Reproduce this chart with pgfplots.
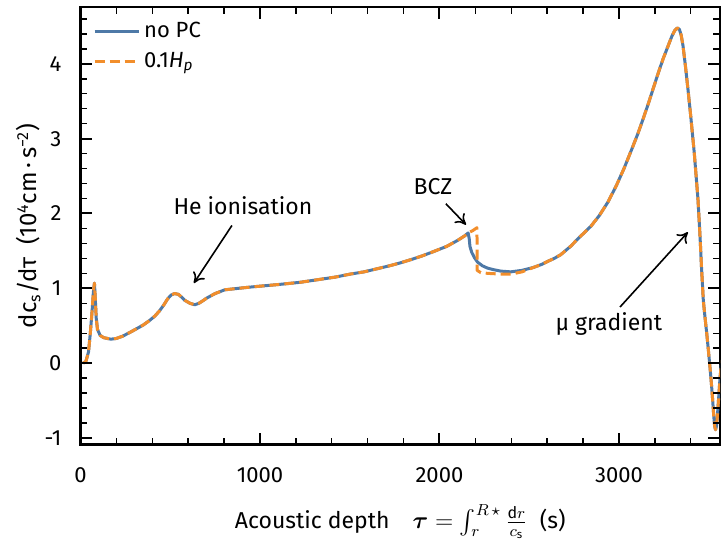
\documentclass[border=0pt]{standalone}
\usepackage{amsmath}
\usepackage{pgfplots}
\pgfplotsset{compat=1.18}
\usepackage{fontspec}
\setmainfont{Fira Sans}
\usetikzlibrary{arrows.meta}
\definecolor{cblue}{HTML}{4E79A7}
\definecolor{corange}{HTML}{F28E2B}
\begin{document}
\begin{tikzpicture}
\begin{axis}[
  scale only axis, width=320pt, height=219pt,
  xmin=0, xmax=3563, ymin=-1.09, ymax=4.76,
  xtick={0,1000,2000,3000}, ytick={-1,0,1,2,3,4},
  tick align=inside, tick pos=both,
  major tick length=0pt,
  axis line style={line width=1.2pt},
  clip=false,
  /pgf/number format/assume math mode=true,
  /pgf/number format/1000 sep={},
  scaled x ticks=false,
  tick label style={font=\fontsize{11}{13}\selectfont},
  xticklabel style={yshift=-8pt},
  yticklabel style={xshift=-6pt},
  xlabel={Acoustic depth\quad $\boldsymbol{\tau} = \int_r^{R\,\star}\frac{\mathrm{d}r}{c_\mathrm{s}}$\ \ (s)},
  ylabel={dc\textsubscript{s}/dτ\ \ (10\textsuperscript{4}cm\,·\,s\textsuperscript{−2})},
  every axis x label/.style={at={(rel axis cs:0.5,0)}, anchor=center, yshift=-38.5pt, font=\fontsize{11.5}{13}\selectfont},
  every axis y label/.style={at={(rel axis cs:0,0.5)}, anchor=center, rotate=90, yshift=26pt, font=\fontsize{12}{14}\selectfont},
  legend style={at={(rel axis cs:0.01,0.985)}, anchor=north west, draw=none, fill=none,
     font=\fontsize{11}{13}\selectfont, row sep=2pt},
  legend cell align=left,
  legend image code/.code={\draw[#1] (0pt,0pt) -- (22pt,0pt);},
]
\begin{scope}
\clip (rel axis cs:0,0) rectangle (rel axis cs:1,1);
\addplot[cblue, line width=1.5pt, line join=round] coordinates {
(15,0.0) (30,0.02) (45,0.15) (55,0.4) (65,0.7) (72,0.95) (78,1.07) (83,0.85) (88,0.6)
(95,0.45) (110,0.37) (130,0.34) (170,0.32) (200,0.33) (235,0.36) (275,0.41) (313,0.46)
(350,0.51) (385,0.57) (415,0.63) (441,0.7) (465,0.78) (486,0.86) (505,0.91) (525,0.93)
(545,0.92) (560,0.89) (581,0.84) (610,0.8) (637,0.78) (660,0.8) (680,0.83) (704,0.87)
(750,0.93) (804,0.98) (880,1.0) (961,1.02) (1100,1.05) (1223,1.08) (1335,1.12)
(1420,1.15) (1503,1.19) (1580,1.22) (1650,1.26) (1720,1.3) (1782,1.34) (1850,1.39)
(1900,1.43) (1966,1.49) (2040,1.56) (2101,1.64) (2140,1.7) (2160,1.74)
(2166,1.66) (2170,1.56) (2180,1.48) (2195,1.41) (2212,1.35) (2240,1.3) (2268,1.27)
(2300,1.25) (2341,1.23) (2397,1.22) (2460,1.24) (2525,1.28) (2570,1.32) (2603,1.36)
(2640,1.4) (2676,1.45) (2730,1.56) (2788,1.7) (2844,1.83) (2890,1.97) (2938,2.15)
(2985,2.37) (3028,2.6) (3070,2.85) (3106,3.07) (3140,3.3) (3168,3.5) (3195,3.7)
(3218,3.87) (3245,4.06) (3274,4.24) (3295,4.37) (3312,4.45) (3325,4.48) (3337,4.46)
(3347,4.38) (3357,4.24) (3370,3.98) (3385,3.65) (3400,3.3) (3420,2.8) (3440,2.2)
(3451,1.73) (3460,1.28) (3470,0.84) (3480,0.6) (3489,0.4) (3498,0.18) (3507,-0.05)
(3515,-0.27) (3522,-0.49) (3528,-0.7) (3533,-0.84) (3538,-0.89) (3543,-0.85)
(3548,-0.72) (3556,-0.45) (3563,-0.2) (3575,0.1)
};
\addlegendentry{no PC}
\addplot[corange, line width=1.5pt, line join=round, dash pattern=on 5pt off 2.5pt] coordinates {
(15,0.0) (30,0.02) (45,0.15) (55,0.4) (65,0.7) (72,0.95) (78,1.07) (83,0.85) (88,0.6)
(95,0.45) (110,0.37) (130,0.34) (170,0.32) (200,0.33) (235,0.36) (275,0.41) (313,0.46)
(350,0.51) (385,0.57) (415,0.63) (441,0.7) (465,0.78) (486,0.86) (505,0.91) (525,0.93)
(545,0.92) (560,0.89) (581,0.84) (610,0.8) (637,0.78) (660,0.8) (680,0.83) (704,0.87)
(750,0.93) (804,0.98) (880,1.0) (961,1.02) (1100,1.05) (1223,1.08) (1335,1.12)
(1420,1.15) (1503,1.19) (1580,1.22) (1650,1.26) (1720,1.3) (1782,1.34) (1850,1.39)
(1900,1.43) (1966,1.49) (2040,1.56) (2101,1.64) (2140,1.7) (2160,1.74)
(2185,1.77) (2209,1.81) (2210,1.24) (2230,1.21) (2268,1.2) (2340,1.19) (2400,1.19)
(2460,1.22) (2525,1.28) (2570,1.32) (2603,1.36)
(2640,1.4) (2676,1.45) (2730,1.56) (2788,1.7) (2844,1.83) (2890,1.97) (2938,2.15)
(2985,2.37) (3028,2.6) (3070,2.85) (3106,3.07) (3140,3.3) (3168,3.5) (3195,3.7)
(3218,3.87) (3245,4.06) (3274,4.24) (3295,4.37) (3312,4.45) (3325,4.48) (3337,4.46)
(3347,4.38) (3357,4.24) (3370,3.98) (3385,3.65) (3400,3.3) (3420,2.8) (3440,2.2)
(3451,1.73) (3460,1.28) (3470,0.84) (3480,0.6) (3489,0.4) (3498,0.18) (3507,-0.05)
(3515,-0.27) (3522,-0.49) (3528,-0.7) (3533,-0.84) (3538,-0.89) (3543,-0.85)
(3548,-0.72) (3556,-0.45) (3563,-0.2) (3575,0.1)
};
\addlegendentry{0.1\textit{H}\textsubscript{\textit{p}}}
\end{scope}
\node[font=\fontsize{11.5}{13}\selectfont] at (axis cs:905,2.11) {He ionisation};
\draw[-{To[length=5pt,width=7pt]}, line width=0.8pt] (axis cs:844,1.84) -- (axis cs:632,1.07);
\node[font=\fontsize{11.5}{13}\selectfont] at (axis cs:1964,2.36) {BCZ};
\draw[-{To[length=5pt,width=7pt]}, line width=0.8pt] (axis cs:2036,2.13) -- (axis cs:2148,1.85);
\node[font=\fontsize{11.5}{13}\selectfont] at (axis cs:2944,0.52) {μ gradient};
\draw[-{To[length=5pt,width=7pt]}, line width=0.8pt] (axis cs:3006,0.75) -- (axis cs:3384,1.75);
\end{axis}
% tick marks (200-unit minor steps on x, 0.2 on y), drawn on the axis frame
\foreach \i in {1,...,17} {
  \pgfmathsetmacro{\xx}{\i*17.9624}
  \draw[line width=0.7pt] ([xshift=\xx pt]current axis.south west) -- ++(0pt,3.5pt);
  \draw[line width=0.7pt] ([xshift=\xx pt]current axis.north west) -- ++(0pt,-3.5pt);
}
\foreach \v in {89.812,179.624,269.436} {
  \draw[line width=1pt] ([xshift=\v pt]current axis.south west) -- ++(0pt,6pt);
  \draw[line width=1pt] ([xshift=\v pt]current axis.north west) -- ++(0pt,-6pt);
}
\foreach \i in {0,...,28} {
  \pgfmathsetmacro{\yy}{(\i*0.2+0.09)*37.4359}
  \draw[line width=0.7pt] ([yshift=\yy pt]current axis.south west) -- ++(3.5pt,0pt);
  \draw[line width=0.7pt] ([yshift=\yy pt]current axis.south east) -- ++(-3.5pt,0pt);
}
\foreach \v in {3.369,40.805,78.241,115.677,153.113,190.549} {
  \draw[line width=1pt] ([yshift=\v pt]current axis.south west) -- ++(6pt,0pt);
  \draw[line width=1pt] ([yshift=\v pt]current axis.south east) -- ++(-6pt,0pt);
}
\pgfresetboundingbox
\path ([shift={(-40.25pt,-47.5pt)}]current axis.south west) rectangle ([shift={(2pt,3.5pt)}]current axis.north east);
\end{tikzpicture}
\end{document}
